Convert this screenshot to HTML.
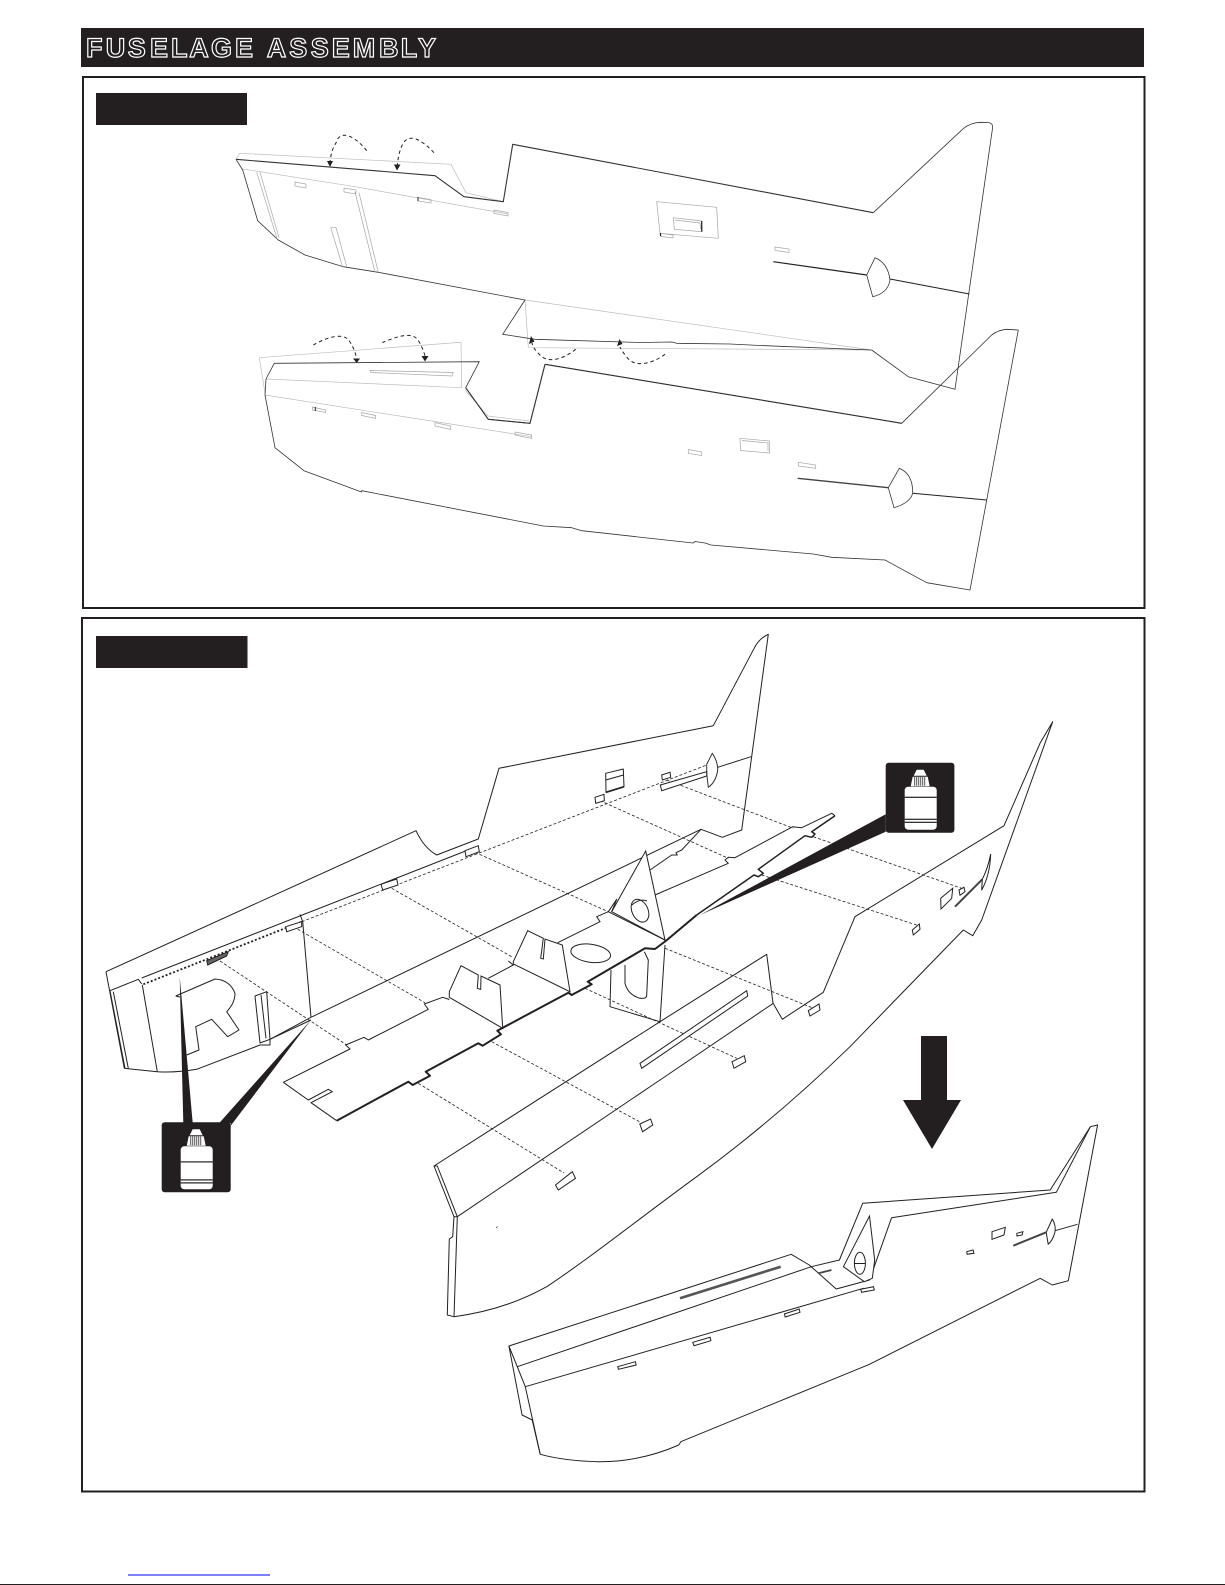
<!DOCTYPE html>
<html><head><meta charset="utf-8"><title>Fuselage Assembly</title>
<style>html,body{margin:0;padding:0;background:#fff}svg{display:block}
.l{fill:none;stroke:#231f20;stroke-width:1;stroke-linejoin:round}
.m{fill:none;stroke:#333;stroke-width:.8;stroke-linejoin:round}
.t{fill:none;stroke:#231f20;stroke-width:2;stroke-linejoin:round}
.g{fill:none;stroke:#bdbdbd;stroke-width:.7}
.s{fill:none;stroke:#a5a5a5;stroke-width:.7}
.d{fill:none;stroke:#231f20;stroke-width:.8;stroke-dasharray:3 2}
.a{fill:none;stroke:#231f20;stroke-width:1;stroke-dasharray:3.5 3}
.k{fill:#231f20}
.w{fill:#fff;stroke:#231f20;stroke-width:1}
</style></head><body>
<svg xmlns="http://www.w3.org/2000/svg" width="1225" height="1585" viewBox="0 0 1225 1585">
<rect width="1225" height="1585" fill="#fff"/>
<rect class="k" x="81" y="28" width="1063" height="39"/>
<text y="57" x="86 105.700 127.700 150 171 189.300 211 235 266.700 289.300 310.700 331.700 352.700 379 400.700 418" font-family="Liberation Sans,sans-serif" font-weight="700" font-size="27" fill="#231f20" stroke="#fff" stroke-width="1.200">FUSELAGEASSEMBLY</text>
<rect x="83" y="77" width="1061.500" height="531" fill="none" stroke="#231f20" stroke-width="2"/>
<rect x="82" y="618" width="1062.500" height="873.500" fill="none" stroke="#231f20" stroke-width="2"/>
<rect class="k" x="96" y="93" width="151" height="32"/>
<rect class="k" x="96" y="636" width="151.500" height="32"/>

<!-- upper part -->
<path class="g" d="M236 159 240 153.300 451 164.300 466 192.700 503.300 201.700"/>
<path class="g" d="M242.700 169 355 186.700 508 214"/>
<path class="g" d="M525 300 871.700 350M525 300 528.300 347.700 871.700 350"/>
<path class="m" d="M873.300 212.700 960 131.700Q968 123 980 122.300L988 122.500Q992.700 123 992.700 127L955 389.300 908.300 376.700 871.700 350"/>
<path class="m" style="stroke-width:1.100" d="M236 159.300 435 175.700 464 196.700 503.300 201.700 512.700 144.300 873.300 212.700"/>
<path class="m" d="M871.700 350 760 345.500 730 344 676.700 343.300 672 342 640 342.500 535 339.300 502.700 334.300 525 300 378.300 272.300 343.300 266.700 305 255 278.300 240 257.700 220.700 242.700 170 236 159.300"/>
<path class="s" d="M256.700 172.300 276.700 237.700M260 172.300 279 237.700M355 191.700 375 272.300M359 192.700 378.300 272.300M330.700 227.300 342.700 267.300M336 227.300 346.700 266.700M330.700 227.300H336"/>
<path class="s" d="M295 182 306 184V188L295 186ZM344 188 356 190V194L344 192ZM418 197.500 431 199.500V203L418 201ZM494 210 508 212.500V216L494 213.500ZM775 247 789 249V252.500L775 250.500Z"/>
<path class="l" d="M418 197V201"/>
<path class="s" d="M656.700 201.700 716.700 207.300 718.300 238.300 660 233.300ZM673.300 217.700 701.700 221 702.300 231.700 674.300 229.300ZM675 220 700 223 700.500 229M660 233.300 673 235V238L661 236.500Z"/>
<path class="l" d="M701.700 221V231.500M660.500 233V236" style="stroke-width:1.200"/>
<path class="t" style="stroke-width:1.200" d="M773.300 261.700 866.700 275"/>
<path class="m" d="M866.700 275 875 257.700Q888 263 890 280Q888 293 872.700 296.700L866.700 275Z"/>
<path class="l" d="M890 279 969.300 294"/>
<path class="a" d="M366.700 150.700C356 137 340 128 336 143Q331 150 330 163"/>
<path class="a" d="M434 152.700C422 140 407 130 401 148Q398 156 397.300 166"/>
<path class="k" d="M327 161H333L330 167ZM394 164.500H400.500L397 170.500Z"/>

<!-- lower part -->
<path class="g" d="M259.300 357.700 461 342.300 461.700 387.700M259.300 357.700 265 393M266 379 461.700 387.700M265 395 531.700 436.700"/>
<path class="g" d="M465 390 488 416 529 421"/>
<path class="s" d="M370 370.500 453.300 372.500 452 376 371 372.500ZM312.300 407 325.700 410V412.500L312.300 410ZM361.700 412.500 375.700 415.500V418.500L361.700 415.500ZM435 422.500 450.700 426V429.500L435 426ZM515 432 531.700 435V438.500L515 435ZM688.300 449.500 701.700 452V455.500L688.300 453.500ZM740 438.300 769.300 441 769.700 453 740.500 450.500ZM742 440.500 768 443 768 451M798.300 462.300 815.700 465V468.300L798.300 466Z"/>
<path class="l" d="M315.300 407V411"/>
<path class="m" d="M274.300 363.300 479.300 361.700 465.700 387.700 488.300 419.300 530 423.300 545 364.300 901.700 423.300 991.700 335Q998 330 1006.700 329.300L1018.300 330 970 590 926.700 582.700 885 560 831.700 557.300 813.300 554 711 545 705 543 695 541.500 693 543 581.700 530.700 571.700 527.700 543.300 526 361.700 490.700 361.500 492 304 470.700 275 447.700 265 395 266 379Z"/>
<path class="m" style="stroke-width:1.100" d="M545 364.300 901.700 423.300M465.700 387.700 488.300 419.300 530 423.300 545 364.300"/>
<path class="t" style="stroke-width:1.300;stroke:#444" d="M797.700 478.300 888.300 487.700"/>
<path class="m" d="M888.300 487.700 899.300 468.300Q913 474 912.700 493.300Q910 503 894 507.700L888.300 487.700Z"/>
<path class="l" d="M912.700 493.300 986.700 500"/>
<path class="a" d="M313.300 345C325 338 345 331 350 342Q355 350 356.500 358"/>
<path class="a" d="M382.300 342.700C395 337 412 331 418 340Q423 348 425 356"/>
<path class="a" d="M575.700 349.300C565 358 548 365 539 354Q533 348 532 343"/>
<path class="a" d="M665 354.300C655 362 635 370 626 356Q621 350 620 347"/>
<path class="k" d="M353 358.500H360L356.700 363ZM421.500 356H428.500L425 361.500ZM529 344 534.500 341.500 531 336ZM617 346 622.500 344 619.500 339Z"/>

<!-- exploded left half -->
<path class="d" d="M220 961 346.700 1045M293.300 926.700 425 1002.700M391.700 888.300 511.700 956.700M475 852.300 608.300 911.700M600 800.700 728.300 858.300M666.700 780 793.300 828.300M813.300 836.700 961.700 888.300M761.700 875 916.700 925M665 948.300 813.300 1008.300M585 988.300 736.700 1058.300M491.700 1041.700 640 1122M418.300 1083.300 564 1173"/>
<path class="l" d="M106 971.700 416 830.700Q424 848 436.700 855L478.300 839 499 768.300 713.300 725.700 755 646.700Q760 638 768.300 634.300L741.700 830 722.300 837.300 701 829.300 311 1017.300"/>
<path class="l" d="M311 1017.300 270 1039.300V1045L260 1045 196.700 1069.300Q175 1073 157.300 1071.700L124.300 1068.300 106 971.700M110 990.700 138.300 979.300 141.700 984M141.700 978 478.300 846M110 990.700 125 1068.300M113.300 991.700 128.300 1068.300M142.300 985 157.300 1071.700M302.700 921.700 300 914.300M302.700 921.700 311 1017.300"/>
<path d="M143.300 984.300 301.700 921.700" fill="none" stroke="#231f20" stroke-width="1.800" stroke-dasharray="2 2"/>
<path class="d" d="M301.700 921.700 706.700 765"/>
<path class="l" d="M175.700 996 215 979Q230 980 235 993.300Q235 1003 226.700 1011.700L239 1030 227.700 1036.700 211.700 1019.300 195.700 1026.700 199 1050 186.700 1055M175.700 996 180 997"/>
<path class="l" d="M255 996 266.700 991.700 270 1039.300 260 1043ZM261 995 266 1038.300M270 1039.300 311 1020"/>
<path class="w" d="M206.700 960.700 228.300 951.700 226.700 956 207.700 965Z" style="fill:#666"/>
<path class="w" d="M285.700 926.700 301.700 921.700V926.700L286.700 931.700ZM381 884.300 396.700 879 398 885 382.700 890ZM465 850.700 478.300 845.700 479.300 851.700 466 856.700ZM595 797.300 604 794.300 604.300 800.700 595.700 803.300ZM661.700 775 670 772.300 670.700 777.300 662.300 780ZM660.300 785 706.700 771.700 706.700 776 661.700 790.700Z"/>
<path class="l" d="M605.700 773.300 623.300 769 624 786.700 606 792.300ZM605.800 780 623.500 775"/>
<path class="t" style="stroke-width:1.600" d="M606 792.300 624 786.700"/>
<path class="m" style="stroke-width:1" d="M706.700 764.300 712.300 753.300Q718 762 717.700 770Q716 782 708.300 787.300L706.700 773.300Z"/>
<path class="l" d="M717.700 767.300 751 756.700"/>

<!-- former and bulkheads -->
<path class="l" d="M283.300 1082.300 350 1049 345.700 1045 364 1037.300 368.300 1040 428.300 1009.300 424.300 1004 442.700 997.300 449.300 999.500M283.300 1082.300 308.300 1100 328.300 1089.300 332.300 1091.700 311 1102.700 336.700 1120.700"/>
<path class="l" d="M650 870 671.700 855 677.300 855 676 852.700 681.700 850 701 829.300"/>
<path class="l" d="M835 815.700 831.700 813.300 801.700 827.700 792.700 826.700 735 857.700 728.300 857.300 725 860 728.300 863.300 655 895"/>
<path class="t" d="M336.700 1120.700 408.300 1081.700 412.700 1085 430 1075.700 425.700 1071.700 478.300 1043.300 482.700 1045.700 501 1034.300 497.300 1030.700 568.300 992.700 571.700 995 591.700 984.300 587.700 981.700 645 948.300 655 949 665.700 941 696.700 915"/>
<path class="t" style="stroke-width:1.500" d="M696.700 915 754 875 758.300 876.700 763.300 873.300 758.300 869.300 805 835.700 811.700 837.300 815 834 811.700 831.700 835 815.700"/>
<path class="w" d="M449.300 991.700 461 965.700 478.300 975 477.300 988.300 480.700 989.300 481 976 500 985 502.700 1028.300 449.300 997.300Z"/>
<path class="l" d="M488.300 978.300 513.300 965 508.300 961"/>
<path class="w" d="M513.300 961.700 527.700 930.700 543.300 938.300 540.700 958.300 543.300 959 545 939 562.300 945 570 991.700 513.300 964Z"/>
<ellipse class="l" cx="590.700" cy="953.300" rx="20" ry="9" transform="rotate(8 590.7 953.3)"/>
<path class="l" d="M557.700 942.700 600 921.700 596.700 916.700 608.300 911.700 616.700 899.300 611.700 911.700M608.300 911.700 665 940"/>
<path class="w" d="M611.700 911.700 645.700 851 665 940Z"/>
<ellipse class="l" cx="640" cy="910.700" rx="8" ry="12" transform="rotate(-25 640 910.700)"/>
<path class="l" d="M632 905Q640 898 647 901M665 945 660 1021.700 610 1006.700 611 970M625 965V983.300Q628 995 640 998.300Q647 999 646.700 995L648.300 960 644.300 951.700"/>

<!-- exploded right half -->
<path class="l" d="M434 1166 437.300 1166 457.300 1216.700 454 1216.700ZM454 1216.700 452.700 1236.700 449.300 1239 447.300 1315 454 1316.700 457.300 1216.700M434 1166 660 1021.700 766.700 954.300 773 1003 782.300 1019.300 823.300 992.300 855 916.700 1004 825.700 1040 743.300 1052.700 721.700 981.700 920 972.700 935.700 963.300 930 850 1046.700C790 1105 740 1145 696.700 1176.700C640 1218 590 1258 546.700 1286.700Q505 1310 454 1316.700M457.300 1216.700 660 1080 773.300 1003.300"/>
<path class="w" d="M640 1063.300 746.700 990.700 747.700 996 641.700 1068.300ZM732 1061.700 744.300 1055.700 745.700 1061.700 734 1068.300ZM555.500 1185 572.300 1171.700 575.500 1178.300 558.300 1190ZM639.800 1124 650.600 1119 652.700 1125 642.600 1131.700ZM808.300 1010.700 819 1004 820 1010 810 1016ZM912.300 930 919.300 924 920 929.300 913.300 935ZM959 890 964 887.300 965 891.700 960 895.300ZM940.700 898.300 952.700 888.300 951.700 898.300 941 909Z"/>
<path class="t" style="stroke:#444;stroke-width:2" d="M955 906.700 982.300 879.300"/>
<path class="l" d="M990.700 854Q990 875 981.700 890L982.300 879.300Q988 868 990.700 854"/>
<path class="l" d="M496 1228l1.500-1.500" style="stroke-width:.6"/>

<!-- bottles -->
<g class="k">
<path d="M179.700 976.700 183.300 1123H192.700Z"/>
<path d="M311 1020 219.300 1123H230.700V1125.700Z"/>
<path d="M700 915 885.700 814.300V831.700Z"/>
<rect x="161.700" y="1122.300" width="69" height="70" rx="3"/>
<rect x="885.700" y="762.700" width="68.700" height="70" rx="3"/>
</g>
<g transform="translate(161.700 1122.300)">
<path d="M28 13 31 7H38L41 13Z" fill="#fff"/>
<path d="M27 14H42L44 23.500H25Z" fill="#fff"/>
<path d="M29 14V23M31 14V23M33 14V23M35 14V23M37 14V23M39 14V23" stroke="#555" stroke-width="1"/>
<rect x="19" y="24" width="32" height="43" rx="3.500" fill="#fff"/>
<rect x="19" y="39" width="32" height="1.200" fill="#231f20"/>
<rect x="19" y="57" width="32" height="1.200" fill="#231f20"/><rect x="19" y="60" width="32" height="1.200" fill="#231f20"/>
</g>
<g transform="translate(885.700 762.700)">
<path d="M28 13 31 7H38L41 13Z" fill="#fff"/>
<path d="M27 14H42L44 23.500H25Z" fill="#fff"/>
<path d="M29 14V23M31 14V23M33 14V23M35 14V23M37 14V23M39 14V23" stroke="#555" stroke-width="1"/>
<rect x="19" y="24" width="32" height="43" rx="3.500" fill="#fff"/>
<rect x="19" y="34" width="32" height="1.200" fill="#231f20"/>
<rect x="19" y="56" width="32" height="1.200" fill="#231f20"/><rect x="19" y="59" width="32" height="1.200" fill="#231f20"/>
</g>

<!-- big arrow -->
<path class="k" d="M921 1036H947V1100H961L932 1149 903 1100H921Z"/>

<!-- assembled -->
<path class="l" d="M508.900 1346 791.200 1254.300 809.300 1265 836.200 1289 869.500 1280 891.600 1217.700 1056.300 1192.300 1090.400 1126.700 1097.600 1125 1068.300 1280.700 1052.300 1285 1040.200 1278.300 869.500 1364.300 680.800 1441.700 678.800 1445Q640 1462 598.400 1461.700Q565 1461 540.200 1454.300L532.200 1420 522.100 1415Z"/>
<path class="l" d="M508.900 1346 517.300 1366.700 525.300 1386.700 540.200 1454.300M517.300 1366.700 811.300 1266.700 839.400 1260 862.700 1203.300 1050.200 1190 1090.400 1126.700M525.300 1386.700 863.500 1288.300"/>
<path class="w" d="M843.400 1266.700 869.500 1216 874.700 1260 872.300 1278.300 864.300 1281.700Z"/>
<ellipse class="l" cx="859.900" cy="1263.300" rx="5.500" ry="11"/>
<path class="l" d="M854.500 1263.500H865.300"/>
<path d="M680 1298.300 780.700 1266.700" fill="none" stroke="#555" stroke-width="2.600"/>
<path d="M818.500 1273.300 831.400 1270" fill="none" stroke="#444" stroke-width="1.800"/>
<path class="w" d="M617.700 1366.700 635.400 1361.700 636.200 1365 618.500 1369.300ZM692.800 1342.300 710.100 1337.300 710.900 1340.700 694 1345.700ZM784.400 1314 799.200 1309 800 1312.300 785.200 1317ZM860.700 1289.300 873.500 1286.700 874.300 1290 861.500 1292.300ZM966.700 1251.700 973.100 1250 973.900 1253.300 967.100 1254.300ZM992 1231.700 1005.300 1227.300 1004 1235 992 1239.300ZM1016.900 1233.300 1022.900 1231.700 1022.100 1235 1016.900 1236Z"/>
<path d="M1013.300 1245.700 1046.200 1232.300" fill="none" stroke="#444" stroke-width="2"/>
<path class="l" d="M1046.200 1232.300 1052.300 1219Q1056 1225 1055 1231.700Q1053 1240 1048.200 1244.300ZM1055 1230.700 1077.500 1224.300"/>

<rect x="128" y="1574.500" width="142" height="1" fill="#0000ee"/>
<rect x="0" y="1584" width="1225" height="1" fill="#231f20"/>
</svg>
</body></html>
